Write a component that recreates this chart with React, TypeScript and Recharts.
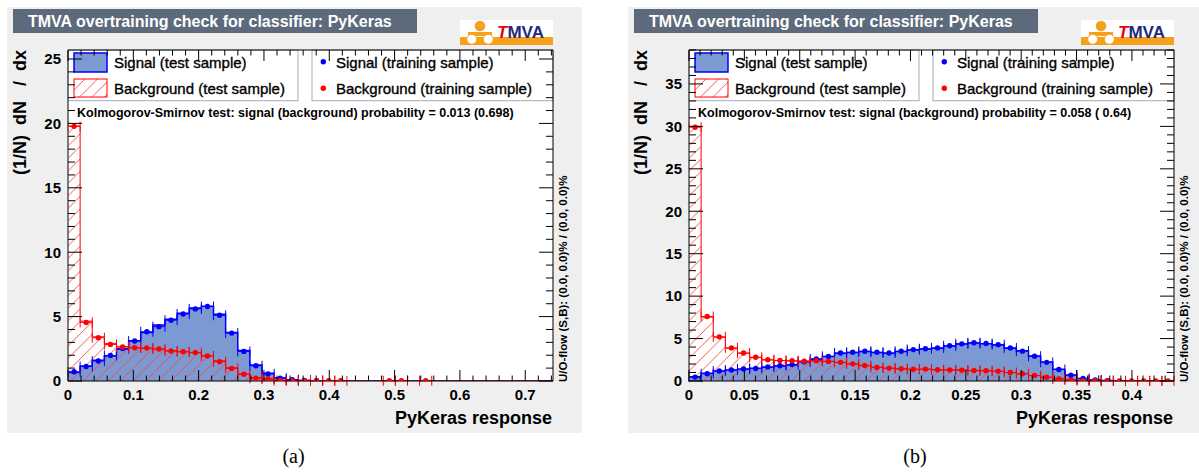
import { Area, ComposedChart, ErrorBar, Scatter, XAxis, YAxis } from "recharts"

// PyKeras response, 40 bins per histogram, normalised (1/N) dN/dx

// (a)
const xMaxA = 0.7425
const yMaxA = 25.7
const sigTestA = [
  0.66, 1.16, 1.62, 1.95, 2.46, 3.12, 3.77, 4.34, 4.8, 5.26, 5.66, 5.8, 5.18, 3.76, 2.36, 1.25, 0.6, 0.26, 0.1, 0.04,
  0.02, 0.01, 0, 0, 0, 0, 0, 0, 0, 0, 0, 0, 0, 0, 0, 0, 0, 0, 0, 0,
]
const bkgTestA = [
  19.8, 4.65, 3.43, 2.92, 2.66, 2.58, 2.53, 2.48, 2.35, 2.27, 2.2, 1.94, 1.57, 1.03, 0.54, 0.26, 0.16, 0.05, 0.03, 0.03,
  0.02, 0.03, 0.02, 0, 0, 0, 0.02, 0.03, 0, 0.02, 0, 0, 0, 0, 0, 0, 0, 0, 0, 0,
]
const sigTrainA = [
  0.72, 1.13, 1.55, 1.98, 2.52, 3.1, 3.82, 4.22, 4.72, 5.2, 5.6, 5.78, 5.1, 3.72, 2.3, 1.18, 0.55, 0.22, 0.1, 0.05,
  0.03, null, null, null, null, null, null, null, null, null, null, null, null, null, null, null, null, null, null, null,
]
const bkgTrainA = [
  19.77, 4.55, 3.36, 2.84, 2.64, 2.58, 2.56, 2.48, 2.33, 2.27, 2.22, 1.94, 1.5, 0.98, 0.52, 0.21, 0.16, 0.04, 0.03, 0.03,
  0.02, 0.03, 0.02, null, null, null, 0.02, 0.03, null, 0.02, null, null, null, null, null, null, null, null, null, null,
]
const xLabelsA = [0, 0.1, 0.2, 0.3, 0.4, 0.5, 0.6, 0.7]
const yLabelsA = [0, 5, 10, 15, 20, 25]
const ksA = "Kolmogorov-Smirnov test: signal (background) probability = 0.013 (0.698)"

// (b)
const xMaxB = 0.438
const yMaxB = 39
const sigTestB = [
  0.51, 0.91, 1.18, 1.3, 1.38, 1.5, 1.62, 1.77, 1.89, 2.29, 2.56, 2.88, 3.27, 3.35, 3.47, 3.35, 3.27, 3.47, 3.66, 3.78,
  3.86, 4.12, 4.37, 4.47, 4.4, 4.25, 3.86, 3.55, 2.96, 2.25, 1.38, 0.71, 0.28, 0.12, 0.05, 0.02, 0, 0, 0, 0,
]
const bkgTestB = [
  30.0, 7.53, 5.16, 3.86, 3.27, 2.76, 2.48, 2.4, 2.36, 2.32, 2.36, 2.32, 2.17, 2.01, 1.81, 1.62, 1.5, 1.42, 1.38, 1.38,
  1.3, 1.3, 1.3, 1.22, 1.22, 1.14, 0.99, 0.83, 0.63, 0.43, 0.24, 0.12, 0.04, 0.03, 0.02, 0.02, 0.02, 0.02, 0.02, 0.02,
]
const sigTrainB = [
  0.46, 0.86, 1.18, 1.3, 1.42, 1.48, 1.66, 1.8, 1.93, 2.25, 2.6, 2.9, 3.3, 3.38, 3.5, 3.38, 3.3, 3.5, 3.7, 3.8,
  3.9, 4.15, 4.38, 4.5, 4.42, 4.28, 3.9, 3.52, 2.92, 2.2, 1.35, 0.68, 0.3, 0.12, 0.05, null, null, null, null, null,
]
const bkgTrainB = [
  29.9, 7.6, 5.2, 3.9, 3.3, 2.8, 2.5, 2.42, 2.38, 2.33, 2.38, 2.3, 2.2, 2.02, 1.83, 1.6, 1.52, 1.44, 1.38, 1.4,
  1.32, 1.3, 1.28, 1.24, 1.2, 1.15, 1.0, 0.85, 0.64, 0.44, 0.25, 0.13, 0.05, 0.03, 0.02, 0.02, 0.02, 0.02, 0.02, 0.02,
]
const xLabelsB = [0, 0.05, 0.1, 0.15, 0.2, 0.25, 0.3, 0.35, 0.4]
const yLabelsB = [0, 5, 10, 15, 20, 25, 30, 35]
const ksB = "Kolmogorov-Smirnov test: signal (background) probability = 0.058 ( 0.64)"

const title = "TMVA overtraining check for classifier: PyKeras"
const xTitle = "PyKeras response"
const yTitle = "(1/N)  dN   /  dx"
const uoFlow = "U/O-flow (S,B): (0.0, 0.0)% / (0.0, 0.0)%"

// canvas geometry of one pad
const W = 575
const H = 426
const PL = 61
const PT = 43
const PR = 546
const PB = 374

const SIG_FILL = "#7d99d1"
const SIG_LINE = "#0000ff"
const BKG_LINE = "#ff0000"

function stepRows(sig: number[], bkg: number[], xMax: number) {
  const w = xMax / sig.length
  const rows = sig.map((s, i) => ({ x: i * w, sig: s, bkg: bkg[i] }))
  rows.push({ x: xMax, sig: sig[sig.length - 1], bkg: bkg[bkg.length - 1] })
  return rows
}

function pointRows(vals: (number | null)[], xMax: number) {
  const w = xMax / vals.length
  const out: { x: number; y: number; xe: number }[] = []
  vals.forEach((v, i) => {
    if (v != null) out.push({ x: (i + 0.5) * w, y: v, xe: w / 2 })
  })
  return out
}

function tickValues(step: number, max: number) {
  const out: number[] = []
  for (let i = 0; i * step <= max + 1e-9; i++) out.push(+(i * step).toFixed(4))
  return out
}

const isMajor = (labels: number[], v: number) => labels.some((l) => Math.abs(l - v) < 1e-9)

const bottomTick = (labels: number[]) => (props: any) => {
  const { x, y, payload } = props
  const major = isMajor(labels, payload.value)
  return (
    <g>
      <line x1={x} x2={x} y1={y} y2={y - (major ? 11 : 5.5)} stroke="#000" />
      {major && (
        <text x={x} y={y + 19} textAnchor="middle" fontSize={15} fontWeight="bold" fill="#000">
          {payload.value}
        </text>
      )}
    </g>
  )
}

const topTick = (labels: number[]) => (props: any) => {
  const { x, y, payload } = props
  const major = isMajor(labels, payload.value)
  return <line x1={x} x2={x} y1={y} y2={y + (major ? 11 : 5.5)} stroke="#000" />
}

const leftTick = (labels: number[]) => (props: any) => {
  const { x, y, payload } = props
  const major = isMajor(labels, payload.value)
  return (
    <g>
      <line x1={x} x2={x + (major ? 14 : 7)} y1={y} y2={y} stroke="#000" />
      {major && (
        <text x={x - 7} y={y + 5.3} textAnchor="end" fontSize={15} fontWeight="bold" fill="#000">
          {payload.value}
        </text>
      )}
    </g>
  )
}

const rightTick = (labels: number[]) => (props: any) => {
  const { x, y, payload } = props
  const major = isMajor(labels, payload.value)
  return <line x1={x} x2={x - (major ? 14 : 7)} y1={y} y2={y} stroke="#000" />
}

const marker = (color: string) => (props: any) => <circle cx={props.cx} cy={props.cy} r={2.7} fill={color} />

function Logo() {
  return (
    <g>
      <rect x={453} y={13} width={93} height={17} fill="#fff" />
      <rect x={453} y={30} width={93} height={8} fill="#f6a11c" />
      <circle cx={473} cy={19} r={5.3} fill="#f6a11c" />
      <rect x={461} y={25} width={24} height={4} fill="#f6a11c" />
      <circle cx={464.7} cy={32.3} r={5} fill="#fff" stroke="#f6a11c" />
      <circle cx={481.3} cy={32.3} r={5} fill="#fff" stroke="#f6a11c" />
      <text x={490} y={31.3} fontSize={17} fontWeight="bold">
        <tspan fill="#e8000e" fontStyle="italic">T</tspan>
        <tspan fill="#1e2a80">MVA</tspan>
      </text>
    </g>
  )
}

// legend labels get a hairline stroke so they read as medium weight
const legendText = { fontSize: 15, fill: "#000", stroke: "#000", strokeWidth: 0.35 }

type PanelProps = {
  left: number
  sigTest: number[]
  bkgTest: number[]
  sigTrain: (number | null)[]
  bkgTrain: (number | null)[]
  xMax: number
  yMax: number
  xLabels: number[]
  xMinor: number
  yLabels: number[]
  ks: string
}

function Panel(p: PanelProps) {
  const rows = stepRows(p.sigTest, p.bkgTest, p.xMax)
  const xTicks = tickValues(p.xMinor, p.xMax)
  const yTicks = tickValues(1, p.yMax)
  return (
    <div style={{ position: "absolute", left: p.left, top: 7, width: W, height: H, background: "#efefef" }}>
      <ComposedChart width={W} height={H} data={rows} margin={{ top: 0, right: 0, bottom: 0, left: 0 }}>
        <rect x={PL} y={PT} width={PR - PL} height={PB - PT} fill="#fff" />

        <rect x={6} y={2} width={404} height={24} fill="#5d6a7c" />
        <text x={21} y={19.7} fontSize={16} fontWeight="bold" fill="#fff">
          {title}
        </text>
        <Logo />

        {/* legend boxes */}
        <rect x={PL} y={PT} width={230} height={50.7} fill="#fff" stroke="#a3abbb" />
        <rect x={67} y={46} width={33} height={19} fill={SIG_FILL} stroke={SIG_LINE} strokeWidth={1.5} />
        <text x={107} y={60.7} {...legendText}>
          Signal (test sample)
        </text>
        <rect x={67} y={72} width={33} height={18} fill="url(#hatchRed)" stroke={BKG_LINE} />
        <text x={107} y={87.3} {...legendText}>
          Background (test sample)
        </text>
        <rect x={305} y={PT} width={PR - 305} height={50.7} fill="#fff" stroke="#a3abbb" />
        <circle cx={316.3} cy={54.7} r={2.7} fill={SIG_LINE} />
        <text x={329} y={60.7} {...legendText}>
          Signal (training sample)
        </text>
        <circle cx={316.3} cy={81.3} r={2.7} fill={BKG_LINE} />
        <text x={329} y={87.3} {...legendText}>
          Background (training sample)
        </text>

        <text x={70} y={110.3} fontSize={12.5} fontWeight="bold" fill="#000">
          {p.ks}
        </text>

        <text
          x={18.5}
          y={PT}
          transform={`rotate(-90 18.5 ${PT})`}
          textAnchor="end"
          fontSize={18}
          fontWeight="bold"
          style={{ whiteSpace: "pre" }}
          fill="#000"
        >
          {yTitle}
        </text>
        <text x={545} y={417} textAnchor="end" fontSize={18} fontWeight="bold" fill="#000">
          {xTitle}
        </text>
        <text x={559.5} y={PB + 1} transform={`rotate(-90 559.5 ${PB + 1})`} fontSize={11.5} fontWeight="bold" fill="#000">
          {uoFlow}
        </text>

        <Area
          xAxisId="b"
          yAxisId="l"
          type="stepAfter"
          dataKey="sig"
          stroke={SIG_LINE}
          strokeWidth={1.5}
          fill={SIG_FILL}
          fillOpacity={1}
          dot={false}
          activeDot={false}
          isAnimationActive={false}
        />
        <Area
          xAxisId="b"
          yAxisId="l"
          type="stepAfter"
          dataKey="bkg"
          stroke={BKG_LINE}
          strokeWidth={1}
          fill="url(#hatchRed)"
          fillOpacity={1}
          dot={false}
          activeDot={false}
          isAnimationActive={false}
        />
        <Scatter
          xAxisId="b"
          yAxisId="l"
          data={pointRows(p.sigTrain, p.xMax)}
          dataKey="y"
          shape={marker(SIG_LINE)}
          isAnimationActive={false}
        >
          <ErrorBar dataKey="xe" direction="x" width={5} stroke={SIG_LINE} strokeWidth={1} />
        </Scatter>
        <Scatter
          xAxisId="b"
          yAxisId="l"
          data={pointRows(p.bkgTrain, p.xMax)}
          dataKey="y"
          shape={marker(BKG_LINE)}
          isAnimationActive={false}
        >
          <ErrorBar dataKey="xe" direction="x" width={5} stroke={BKG_LINE} strokeWidth={1} />
        </Scatter>

        <XAxis
          xAxisId="b"
          dataKey="x"
          type="number"
          domain={[0, p.xMax]}
          allowDataOverflow
          ticks={xTicks}
          interval={0}
          tickSize={0}
          tickMargin={0}
          tickLine={false}
          tick={bottomTick(p.xLabels)}
          height={H - PB}
          axisLine={{ stroke: "#000" }}
        />
        <XAxis
          xAxisId="t"
          orientation="top"
          dataKey="x"
          type="number"
          domain={[0, p.xMax]}
          allowDataOverflow
          ticks={xTicks}
          interval={0}
          tickSize={0}
          tickMargin={0}
          tickLine={false}
          tick={topTick(p.xLabels)}
          height={PT}
          axisLine={{ stroke: "#000" }}
        />
        <YAxis
          yAxisId="l"
          type="number"
          domain={[0, p.yMax]}
          allowDataOverflow
          ticks={yTicks}
          interval={0}
          tickSize={0}
          tickMargin={0}
          tickLine={false}
          tick={leftTick(p.yLabels)}
          width={PL}
          axisLine={{ stroke: "#555", strokeWidth: 1.5 }}
        />
        <YAxis
          yAxisId="r"
          orientation="right"
          type="number"
          domain={[0, p.yMax]}
          allowDataOverflow
          ticks={yTicks}
          interval={0}
          tickSize={0}
          tickMargin={0}
          tickLine={false}
          tick={rightTick(p.yLabels)}
          width={W - PR}
          axisLine={{ stroke: "#000" }}
        />
      </ComposedChart>
    </div>
  )
}

export default function App() {
  return (
    <div
      style={{
        position: "absolute",
        left: 0,
        top: 0,
        width: 1199,
        height: 472,
        overflow: "hidden",
        background: "#fff",
        fontFamily: "'Liberation Sans', Arial, Helvetica, sans-serif",
      }}
    >
      <svg width={0} height={0} style={{ position: "absolute" }}>
        <defs>
          <pattern id="hatchRed" patternUnits="userSpaceOnUse" width={12.5} height={12.5}>
            <path d="M-3,3 L3,-3 M0,12.5 L12.5,0 M9.5,15.5 L15.5,9.5" stroke="#ff4040" strokeWidth={0.9} />
          </pattern>
        </defs>
      </svg>
      <Panel
        left={7}
        sigTest={sigTestA}
        bkgTest={bkgTestA}
        sigTrain={sigTrainA}
        bkgTrain={bkgTrainA}
        xMax={xMaxA}
        yMax={yMaxA}
        xLabels={xLabelsA}
        xMinor={0.02}
        yLabels={yLabelsA}
        ks={ksA}
      />
      <Panel
        left={628}
        sigTest={sigTestB}
        bkgTest={bkgTestB}
        sigTrain={sigTrainB}
        bkgTrain={bkgTrainB}
        xMax={xMaxB}
        yMax={yMaxB}
        xLabels={xLabelsB}
        xMinor={0.01}
        yLabels={yLabelsB}
        ks={ksB}
      />
      <div
        style={{
          position: "absolute",
          left: 243.5,
          width: 100,
          top: 445,
          textAlign: "center",
          fontFamily: "'Liberation Serif', serif",
          fontSize: 20,
        }}
      >
        (a)
      </div>
      <div
        style={{
          position: "absolute",
          left: 865,
          width: 100,
          top: 445,
          textAlign: "center",
          fontFamily: "'Liberation Serif', serif",
          fontSize: 20,
        }}
      >
        (b)
      </div>
    </div>
  )
}
